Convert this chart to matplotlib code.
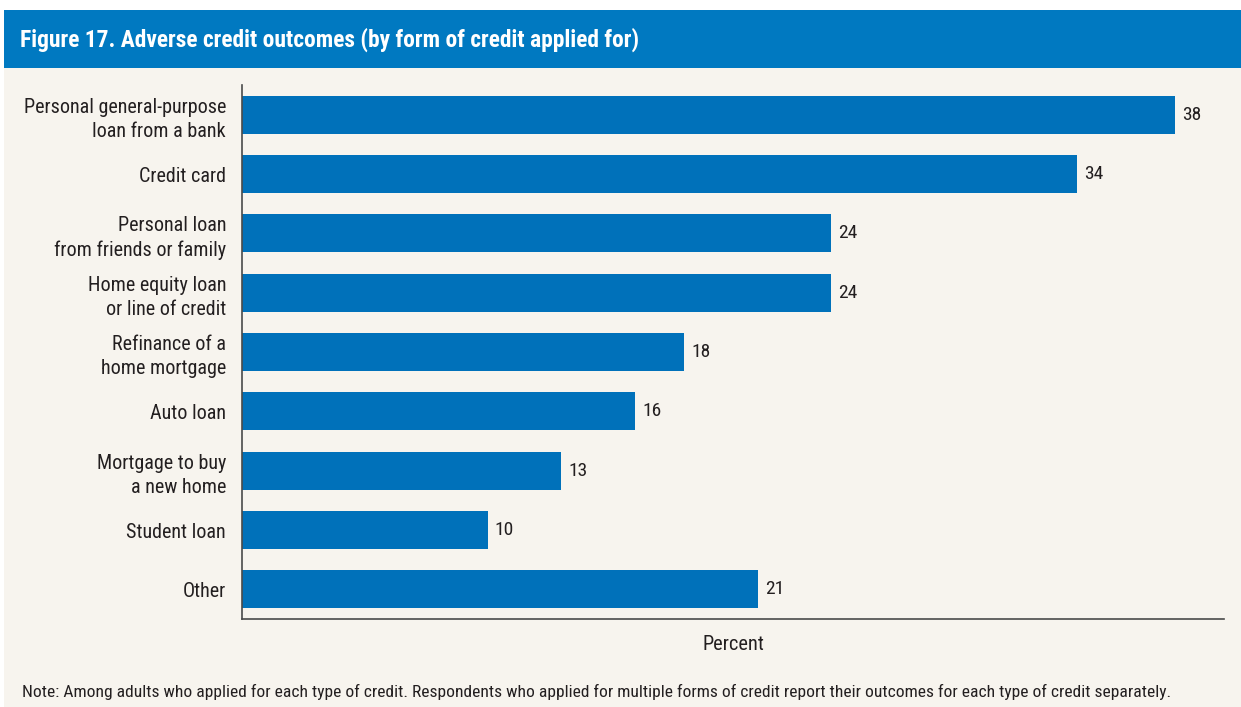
import matplotlib
matplotlib.use("Agg")
import matplotlib.pyplot as plt
from matplotlib.patches import Rectangle

categories = [
    "Personal general-purpose\nloan from a bank",
    "Credit card",
    "Personal loan\nfrom friends or family",
    "Home equity loan\nor line of credit",
    "Refinance of a\nhome mortgage",
    "Auto loan",
    "Mortgage to buy\na new home",
    "Student loan",
    "Other",
]
values = [38, 34, 24, 24, 18, 16, 13, 10, 21]

title = "Figure 17. Adverse credit outcomes (by form of credit applied for)"
xlabel = "Percent"
note = ("Note: Among adults who applied for each type of credit. Respondents who applied for multiple "
        "forms of credit report their outcomes for each type of credit separately.")

FONT = ["Roboto Condensed", "Fira Sans Condensed", "DejaVu Sans"]
plt.rcParams['font.family'] = FONT

BG = "#F7F4EE"
HEADER = "#0079C1"
BAR = "#0071BA"
TXT = "#231F20"

W, H = 1241, 707
fig = plt.figure(figsize=(W / 100, H / 100), dpi=100)
fig.patch.set_facecolor("white")

# beige panel and header
fig.patches.append(Rectangle((4 / W, 0), 1 - 4 / W, 1 - 68 / H, transform=fig.transFigure,
                             facecolor=BG, edgecolor="none", zorder=-10))
fig.patches.append(Rectangle((4 / W, 1 - 68 / H), 1 - 4 / W, 58 / H, transform=fig.transFigure,
                             facecolor=HEADER, edgecolor="none", zorder=-10))
fig.text(20 / W, 1 - 40 / H, title, color="white", fontsize=16.9, fontweight="bold",
         va="center", ha="left")

ax = fig.add_axes([242 / W, 1 - 619 / H, (1224 - 242) / W, (619 - 85) / H])
ax.set_facecolor("none")
y = list(range(len(categories)))
ax.barh(y, values, height=0.64, color=BAR)
ax.set_xlim(0, 40)
ax.set_ylim(len(categories) - 0.5, -0.5)
ax.set_yticks(y)
ax.set_yticklabels(categories, fontsize=14.5, color=TXT, linespacing=1.35)
ax.set_xticks([])
ax.tick_params(axis="y", length=0, pad=11.5)
for s in ["top", "right"]:
    ax.spines[s].set_visible(False)
for s in ["left", "bottom"]:
    ax.spines[s].set_color("#4a4a4a")
    ax.spines[s].set_linewidth(1.2)
for yi, v in zip(y, values):
    ax.text(v + 0.3, yi, f"{v}", va="center", ha="left", fontsize=14, color=TXT)

fig.text(733 / W, 1 - 644 / H, xlabel, ha="center", va="center", fontsize=14.7, color=TXT)
fig.text(22 / W, 1 - 692 / H, note, ha="left", va="center", fontsize=12.6, color=TXT)

fig.savefig("out.png", dpi=100, facecolor=fig.get_facecolor())
